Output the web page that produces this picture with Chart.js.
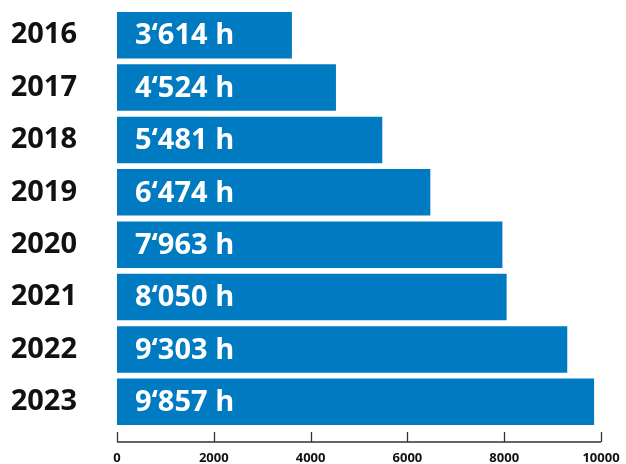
<!DOCTYPE html>
<html>
<head>
<meta charset="utf-8">
<script src="https://cdn.jsdelivr.net/npm/chart.js@4"></script>
<style>
  html, body { margin: 0; padding: 0; background: #fff; overflow: hidden; }
  canvas { display: block; }
</style>
</head>
<body>
<canvas id="hours" width="626" height="464"></canvas>
<script>
// data
const years = ["2016", "2017", "2018", "2019", "2020", "2021", "2022", "2023"];
const hours = [3614, 4524, 5481, 6474, 7963, 8050, 9303, 9857];
const xTicks = [0, 2000, 4000, 6000, 8000, 10000];

const BLUE = '#007bc2';
const FONT = "'Open Sans', 'Noto Sans', sans-serif";

function fmtHours(v) {
  return Math.floor(v / 1000) + '\u2018' + String(v % 1000).padStart(3, '0') + ' h';
}

// value labels inside the bars
const barLabels = {
  id: 'barLabels',
  afterDatasetsDraw(chart) {
    const ctx = chart.ctx;
    const meta = chart.getDatasetMeta(0);
    ctx.save();
    ctx.fillStyle = '#fff';
    ctx.font = 'bold 29px ' + FONT;
    ctx.textAlign = 'left';
    ctx.textBaseline = 'middle';
    meta.data.forEach((bar, i) => {
      ctx.fillText(fmtHours(hours[i]), bar.base + 18, bar.y + 1);
    });
    ctx.restore();
  }
};

// x axis line sits a bit below the bars, ticks point up
const lowAxis = {
  id: 'lowAxis',
  afterDraw(chart) {
    const ctx = chart.ctx;
    const xs = chart.scales.x;
    const y = chart.chartArea.bottom + 14;
    ctx.save();
    ctx.strokeStyle = '#333';
    ctx.lineWidth = 1.3;
    ctx.beginPath();
    ctx.moveTo(xs.getPixelForValue(0), y);
    ctx.lineTo(xs.getPixelForValue(10000), y);
    xTicks.forEach(t => {
      const px = Math.round(xs.getPixelForValue(t)) + 0.5;
      ctx.moveTo(px, y);
      ctx.lineTo(px, y - 10);
    });
    ctx.stroke();
    ctx.restore();
  }
};

new Chart(document.getElementById('hours'), {
  type: 'bar',
  data: {
    labels: years,
    datasets: [{
      data: hours,
      backgroundColor: BLUE,
      borderWidth: 0,
      barPercentage: 0.89,
      categoryPercentage: 1
    }]
  },
  options: {
    indexAxis: 'y',
    responsive: false,
    animation: false,
    layout: { padding: { top: 9, left: 10, right: 25, bottom: 0 } },
    plugins: {
      legend: { display: false },
      tooltip: { enabled: false }
    },
    scales: {
      x: {
        min: 0,
        max: 10000,
        afterBuildTicks: s => { s.ticks = xTicks.map(v => ({ value: v })); },
        grid: { display: false, drawTicks: false },
        border: { display: false },
        ticks: {
          color: '#111',
          padding: 22,
          maxRotation: 0,
          callback: v => String(v),
          font: { family: FONT, size: 13, weight: 'bold' }
        },
        afterFit: s => { s.height = 36; s.paddingLeft = 0; s.paddingRight = 0; }
      },
      y: {
        grid: { display: false, drawTicks: false },
        border: { display: false },
        ticks: {
          color: '#111',
          padding: 40,
          font: { family: FONT, size: 29, weight: 'bold' }
        },
        afterFit: s => { s.width = 107; s.paddingTop = 0; s.paddingBottom = 0; }
      }
    }
  },
  plugins: [barLabels, lowAxis]
});
</script>
</body>
</html>
